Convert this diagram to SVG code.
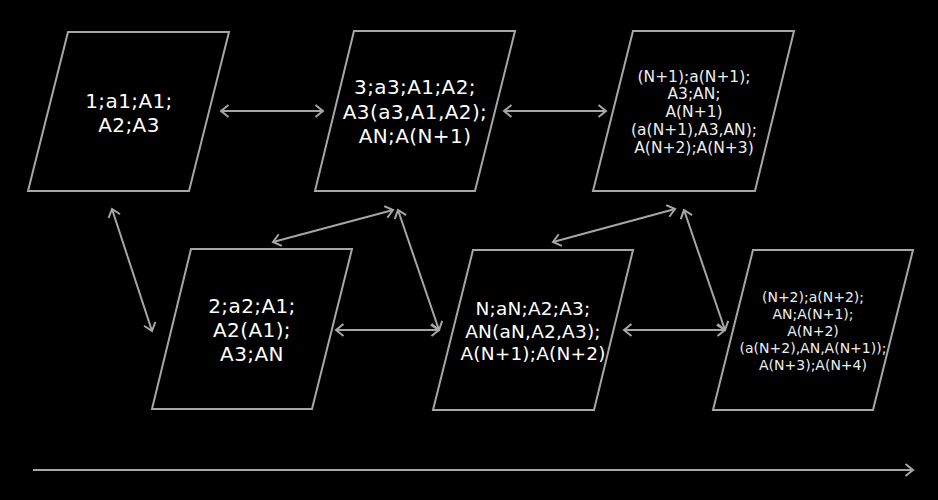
<svg xmlns="http://www.w3.org/2000/svg" width="938" height="500" viewBox="0 0 938 500">
  <style>
    .shape { fill: #000; stroke: #a6a6a6; stroke-width: 2; }
    .lbl { font-family: "DejaVu Sans", Verdana, sans-serif; fill: #fff; text-anchor: middle; }
    .l20 { font-size: 20px; letter-spacing: 0.4px; }
    .l18 { font-size: 18.5px; letter-spacing: 0.2px; }
    .l15 { font-size: 15.5px; fill: #eee; }
    .l14 { font-size: 14px; fill: #eee; }
    .link { stroke: #a6a6a6; stroke-width: 2; fill: none; marker-start: url(#tip); marker-end: url(#tip); }
  </style>
  <defs>
    <marker id="tip" markerUnits="userSpaceOnUse" markerWidth="14" markerHeight="16" refX="9" refY="7" orient="auto-start-reverse">
      <path d="M1.5,1 L9,7 L1.5,13" fill="none" stroke="#a6a6a6" stroke-width="2"/>
    </marker>
  </defs>
  <rect width="938" height="500" fill="#000"/>

  <!-- states -->
  <g id="n1">
    <polygon class="shape" points="68,32 229,32 189,191 28,191"/>
    <text class="lbl l20" x="129" y="108">1;a1;A1;</text>
    <text class="lbl l20" x="129" y="132">A2;A3</text>
  </g>
  <g id="n3">
    <polygon class="shape" points="354,31 515,31 475,191 315,191"/>
    <text class="lbl l20" x="415" y="94">3;a3;A1;A2;</text>
    <text class="lbl l20" x="415" y="119">A3(a3,A1,A2);</text>
    <text class="lbl l20" x="415" y="143">AN;A(N+1)</text>
  </g>
  <g id="nN1">
    <polygon class="shape" points="633,31 794,31 755,191 593,191"/>
    <text class="lbl l15" x="694" y="82">(N+1);a(N+1);</text>
    <text class="lbl l15" x="694" y="99">A3;AN;</text>
    <text class="lbl l15" x="694" y="117">A(N+1)</text>
    <text class="lbl l15" x="694" y="135">(a(N+1),A3,AN);</text>
    <text class="lbl l15" x="694" y="153">A(N+2);A(N+3)</text>
  </g>
  <g id="n2">
    <polygon class="shape" points="191,249 352,249 312,409 152,409"/>
    <text class="lbl l20" x="252" y="313">2;a2;A1;</text>
    <text class="lbl l20" x="252" y="337">A2(A1);</text>
    <text class="lbl l20" x="252" y="361">A3;AN</text>
  </g>
  <g id="nN">
    <polygon class="shape" points="473,250 633,250 594,410 433,410"/>
    <text class="lbl l18" x="533" y="315">N;aN;A2;A3;</text>
    <text class="lbl l18" x="533" y="337.5">AN(aN,A2,A3);</text>
    <text class="lbl l18" x="533" y="359.5">A(N+1);A(N+2)</text>
  </g>
  <g id="nN2">
    <polygon class="shape" points="753,250 913,250 873,410 713,410"/>
    <text class="lbl l14" x="813" y="302">(N+2);a(N+2);</text>
    <text class="lbl l14" x="813" y="319">AN;A(N+1);</text>
    <text class="lbl l14" x="813" y="336">A(N+2)</text>
    <text class="lbl l14" x="813" y="353">(a(N+2),AN,A(N+1));</text>
    <text class="lbl l14" x="813" y="370">A(N+3);A(N+4)</text>
  </g>

  <!-- links between states -->
  <g id="links">
    <line class="link" x1="221" y1="111" x2="323" y2="111"/>
    <line class="link" x1="504" y1="111" x2="606" y2="111"/>
    <line class="link" x1="112" y1="209" x2="152" y2="331"/>
    <line class="link" x1="273" y1="242" x2="393" y2="210"/>
    <line class="link" x1="398" y1="210" x2="439" y2="330"/>
    <line class="link" x1="336" y1="330" x2="439" y2="330"/>
    <line class="link" x1="553" y1="242" x2="675" y2="209"/>
    <line class="link" x1="684" y1="210" x2="725" y2="330"/>
    <line class="link" x1="624" y1="330" x2="725" y2="330"/>
    <!-- time axis -->
    <line x1="33" y1="470" x2="913" y2="470" stroke="#a6a6a6" stroke-width="2" marker-end="url(#tip)"/>
  </g>
</svg>
